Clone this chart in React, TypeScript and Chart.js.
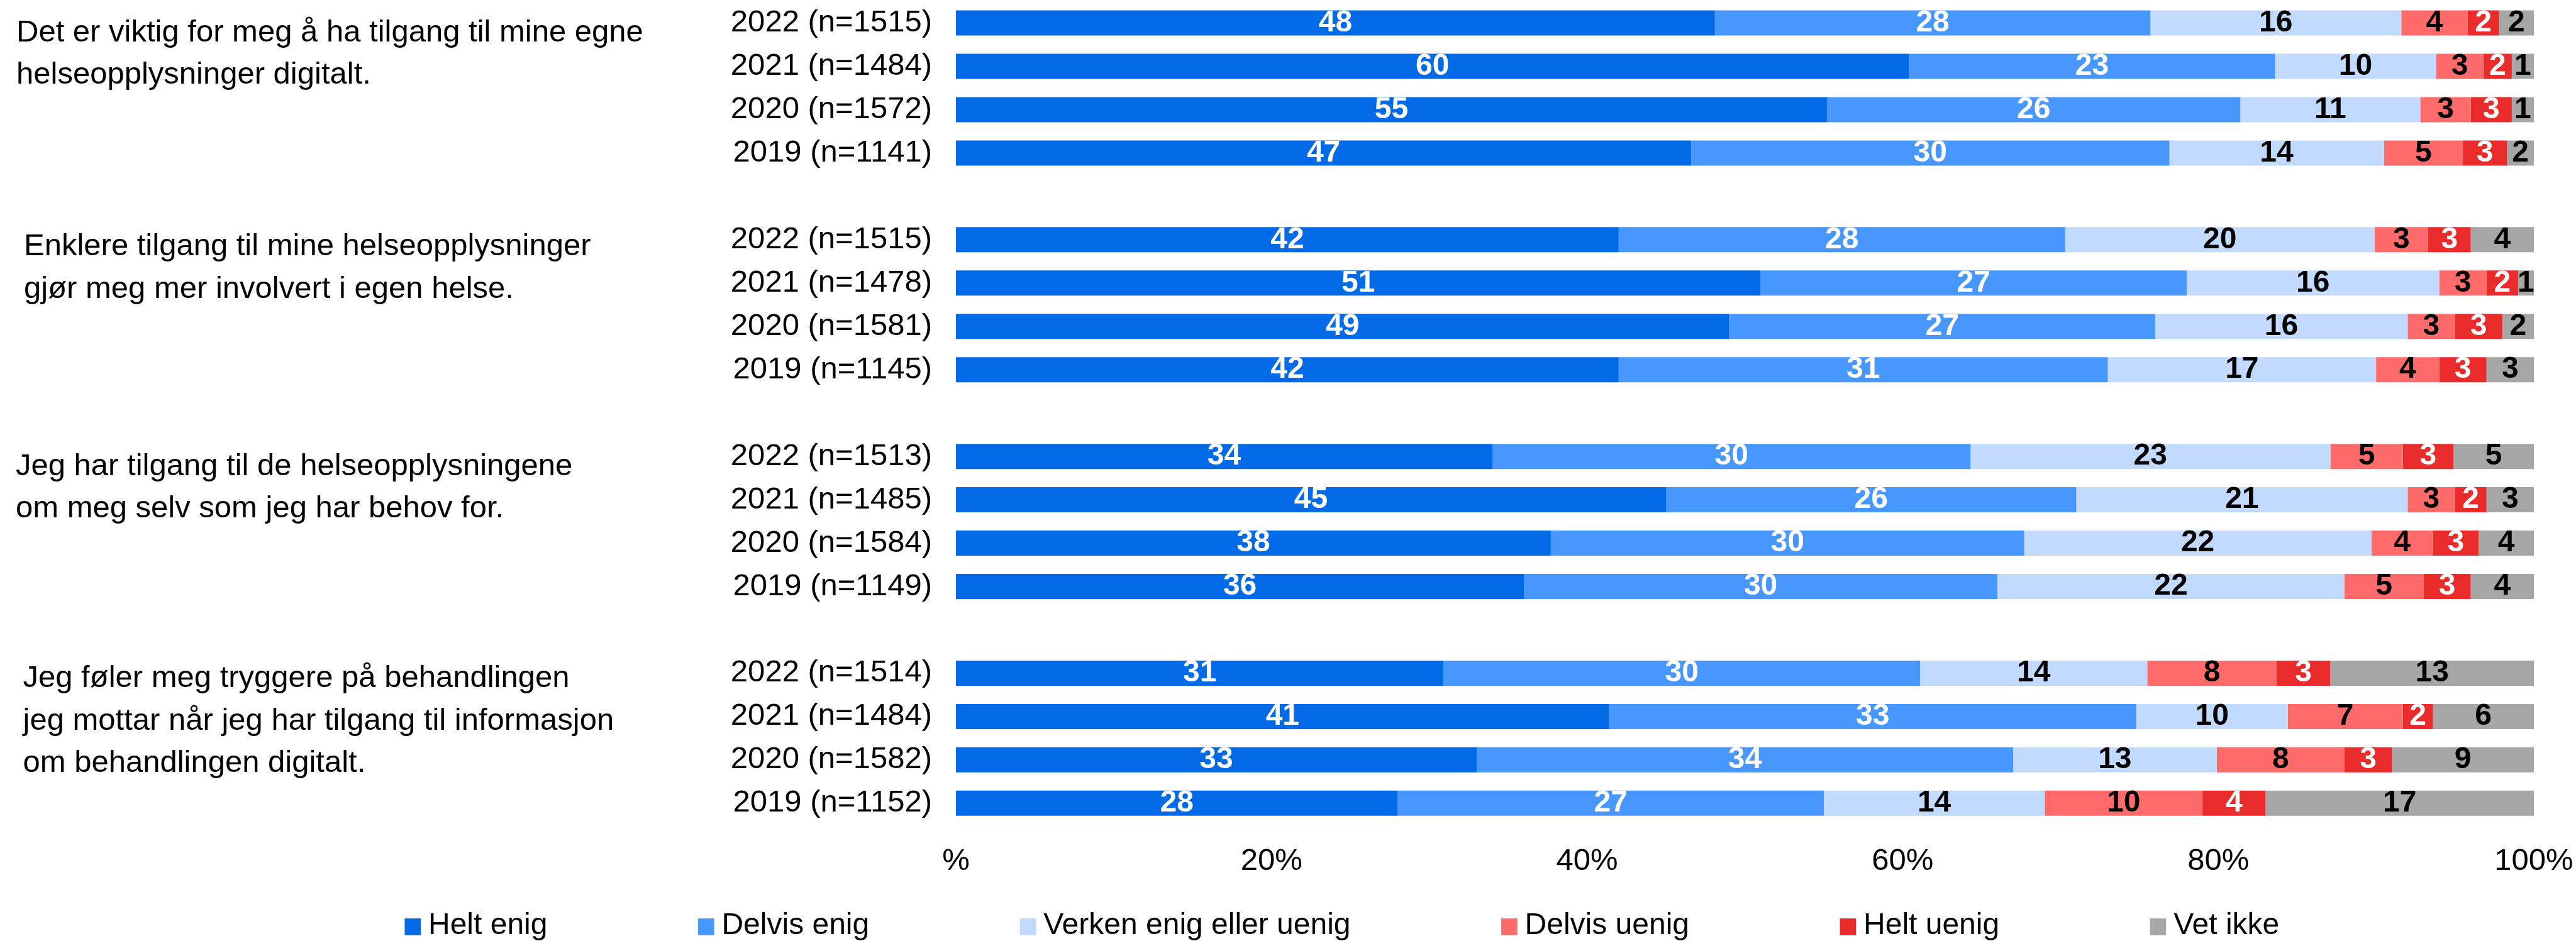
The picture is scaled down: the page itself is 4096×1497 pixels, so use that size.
import React, { useEffect, useRef } from "react";
import { Chart, registerables } from "chart.js";

Chart.register(...registerables);

const FONT = "'Liberation Sans', Arial, Helvetica, sans-serif";
const FS = 48;
const FS_TEXT = 49;

// ---------- data ----------
const statements: string[][] = [
  ["Det er viktig for meg å ha tilgang til mine egne", "helseopplysninger digitalt."],
  ["Enklere tilgang til mine helseopplysninger", "gjør meg mer involvert i egen helse."],
  ["Jeg har tilgang til de helseopplysningene", "om meg selv som jeg har behov for."],
  ["Jeg føler meg tryggere på behandlingen", "jeg mottar når jeg har tilgang til informasjon", "om behandlingen digitalt."],
];

const rowLabels = [
  "2022 (n=1515)", "2021 (n=1484)", "2020 (n=1572)", "2019 (n=1141)",
  "2022 (n=1515)", "2021 (n=1478)", "2020 (n=1581)", "2019 (n=1145)",
  "2022 (n=1513)", "2021 (n=1485)", "2020 (n=1584)", "2019 (n=1149)",
  "2022 (n=1514)", "2021 (n=1484)", "2020 (n=1582)", "2019 (n=1152)",
];

const seriesNames = ["Helt enig", "Delvis enig", "Verken enig eller uenig", "Delvis uenig", "Helt uenig", "Vet ikke"];

const heltEnig = [48.1, 60.4, 55.2, 46.6, 42.0, 51.0, 49.0, 42.0, 34.0, 45.0, 37.7, 36.0, 30.9, 41.4, 33.0, 28.0];
const delvisEnig = [27.6, 23.2, 26.2, 30.3, 28.3, 27.0, 27.0, 31.0, 30.3, 26.0, 30.0, 30.0, 30.2, 33.4, 34.0, 27.0];
const verken = [15.9, 10.2, 11.4, 13.6, 19.6, 16.0, 16.0, 17.0, 22.8, 21.0, 22.0, 22.0, 14.4, 9.6, 12.9, 14.0];
const delvisUenig = [4.2, 3.0, 3.2, 5.0, 3.4, 3.0, 3.0, 4.0, 4.6, 3.0, 3.9, 5.0, 8.2, 7.3, 8.1, 10.0];
const heltUenig = [2.0, 1.8, 2.6, 2.8, 2.7, 2.0, 3.0, 3.0, 3.2, 2.0, 2.9, 3.0, 3.4, 1.9, 3.0, 4.0];
const vetIkke = [2.2, 1.4, 1.4, 1.7, 4.0, 1.0, 2.0, 3.0, 5.1, 3.0, 3.5, 4.0, 12.9, 6.4, 9.0, 17.0];

const xTickValues = [0, 20, 40, 60, 80, 100];

// ---------- styles ----------
const seriesColors = ["#036AE7", "#4797FF", "#C2DAFE", "#FF6B6B", "#E92B2C", "#A6A6A6"];
const labelColors = ["#FFFFFF", "#FFFFFF", "#000000", "#000000", "#FFFFFF", "#000000"];

const GROUP = 4;
const L = {
  yAxisWidth: 1520,
  tickPadY: 38,
  chartRightPad: 67,
  chartTopPad: 2.1,
  xAxisHeight: 110,
  bottomPad: 74.7,
  tickPadX: 29,
  stmtX: [26, 38, 25, 36.5],
  stmtDy: [29, 25, 30, 22.4],
  stmtLine: 67.3,
  legendX: 643.5,
  legendY: 1473,
  legendBox: 25.6,
  legendBoxH: 26.8,
  legendTextGap: 11.9,
  legendItemGap: 239.5,
};

// Build the category list with an empty slot between statement groups
function withGaps<T>(arr: T[], gap: T): T[] {
  const out: T[] = [];
  arr.forEach((v, i) => {
    out.push(v);
    if ((i + 1) % GROUP === 0 && i !== arr.length - 1) out.push(gap);
  });
  return out;
}

const categories = withGaps(rowLabels, "");
const seriesData = [heltEnig, delvisEnig, verken, delvisUenig, heltUenig, vetIkke].map((s) =>
  withGaps<number | null>(s, null)
);

const valueLabelPlugin = {
  id: "valueLabels",
  afterDatasetsDraw(chart: any) {
    const ctx = chart.ctx;
    ctx.save();
    ctx.font = `bold ${FS}px ${FONT}`;
    ctx.textAlign = "center";
    ctx.textBaseline = "middle";
    chart.data.datasets.forEach((ds: any, di: number) => {
      const meta = chart.getDatasetMeta(di);
      meta.data.forEach((bar: any, i: number) => {
        const v = ds.data[i];
        if (v == null) return;
        const p = bar.getProps(["x", "y", "base"], true);
        ctx.fillStyle = labelColors[di];
        ctx.fillText(String(Math.round(v)), (p.x + p.base) / 2, p.y);
      });
    });
    ctx.restore();
  },
};

const statementPlugin = {
  id: "statements",
  afterDraw(chart: any) {
    const ctx = chart.ctx;
    const yScale = chart.scales.y;
    ctx.save();
    ctx.font = `${FS_TEXT}px ${FONT}`;
    ctx.fillStyle = "#000";
    ctx.textAlign = "left";
    ctx.textBaseline = "alphabetic";
    statements.forEach((lines, g) => {
      const y0 = yScale.getPixelForValue(g * (GROUP + 1)) + L.stmtDy[g];
      lines.forEach((line, li) => {
        ctx.fillText(line, L.stmtX[g], y0 + li * L.stmtLine);
      });
    });
    ctx.restore();
  },
};

const legendPlugin = {
  id: "customLegend",
  afterDraw(chart: any) {
    const ctx = chart.ctx;
    ctx.save();
    ctx.font = `${FS}px ${FONT}`;
    ctx.textAlign = "left";
    ctx.textBaseline = "middle";
    let x = L.legendX;
    chart.data.datasets.forEach((ds: any) => {
      ctx.fillStyle = ds.backgroundColor;
      ctx.fillRect(x, L.legendY + 1.5 - L.legendBoxH / 2, L.legendBox, L.legendBoxH);
      ctx.fillStyle = "#000";
      const tx = x + L.legendBox + L.legendTextGap;
      ctx.fillText(ds.label, tx, L.legendY);
      x = tx + ctx.measureText(ds.label).width + L.legendItemGap;
    });
    ctx.restore();
  },
};

export default function App() {
  const ref = useRef<HTMLCanvasElement | null>(null);

  useEffect(() => {
    if (!ref.current) return;
    Chart.defaults.font.family = FONT;
    Chart.defaults.font.size = FS;
    Chart.defaults.color = "#000";

    const chart = new Chart(ref.current, {
      type: "bar",
      data: {
        labels: categories,
        datasets: seriesNames.map((name, i) => ({
          label: name,
          data: seriesData[i],
          backgroundColor: seriesColors[i],
          borderWidth: 0,
          barPercentage: 0.58,
          categoryPercentage: 1,
        })),
      },
      options: {
        indexAxis: "y",
        responsive: false,
        animation: false,
        layout: {
          padding: { left: 0, right: L.chartRightPad, top: L.chartTopPad, bottom: L.bottomPad },
        },
        plugins: {
          legend: { display: false },
          tooltip: { enabled: false },
          title: { display: false },
        },
        scales: {
          x: {
            stacked: true,
            min: 0,
            max: 100,
            grid: { display: false, drawTicks: false },
            border: { display: false },
            afterBuildTicks: (scale: any) => {
              scale.ticks = xTickValues.map((v) => ({ value: v }));
            },
            ticks: {
              padding: L.tickPadX,
              color: "#000",
              font: { size: FS_TEXT, family: FONT },
              maxRotation: 0,
              autoSkip: false,
              callback: (v: any) => (Number(v) === 0 ? "%" : `${v}%`),
            },
            afterFit: (scale: any) => {
              scale.height = L.xAxisHeight;
              scale.paddingLeft = 0;
              scale.paddingRight = 0;
            },
          },
          y: {
            stacked: true,
            grid: { display: false, drawTicks: false },
            border: { display: false },
            ticks: {
              padding: L.tickPadY,
              color: "#000",
              autoSkip: false,
              font: { size: FS_TEXT, family: FONT },
            },
            afterFit: (scale: any) => {
              scale.width = L.yAxisWidth;
              scale.paddingTop = 0;
              scale.paddingBottom = 0;
            },
          },
        },
      },
      plugins: [valueLabelPlugin, statementPlugin, legendPlugin],
    } as any);

    return () => chart.destroy();
  }, []);

  return (
    <div style={{ position: "absolute", left: 0, top: 0, width: 4096, height: 1497, background: "#fff" }}>
      <canvas ref={ref} width={4096} height={1497} style={{ display: "block", width: 4096, height: 1497 }} />
    </div>
  );
}
